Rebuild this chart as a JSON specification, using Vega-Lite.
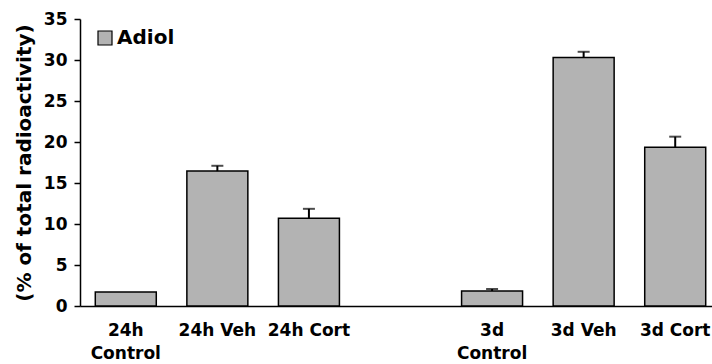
{
  "$schema": "https://vega.github.io/schema/vega-lite/v6.json",
  "autosize": "none",
  "width": 641,
  "height": 287,
  "padding": {"left": 80, "top": 19, "right": 0, "bottom": 58},
  "background": "white",
  "config": {
    "view": {"stroke": null},
    "font": "DejaVu Sans",
    "axis": {"grid": false, "domainColor": "black", "tickColor": "black", "labelColor": "black", "titleColor": "black", "labelFont": "DejaVu Sans", "titleFont": "DejaVu Sans", "labelFontWeight": "bold", "titleFontWeight": "bold"}
  },
  "data": {
    "values": [
      {"group": "24h Control", "value": 1.7, "upper": null, "series": "Adiol"},
      {"group": "24h Veh", "value": 16.45, "upper": 17.1, "series": "Adiol"},
      {"group": "24h Cort", "value": 10.7, "upper": 11.85, "series": "Adiol"},
      {"group": "3d Control", "value": 1.83, "upper": 2.07, "series": "Adiol"},
      {"group": "3d Veh", "value": 30.3, "upper": 31.0, "series": "Adiol"},
      {"group": "3d Cort", "value": 19.35, "upper": 20.65, "series": "Adiol"}
    ]
  },
  "encoding": {
    "x": {
      "field": "group",
      "type": "nominal",
      "sort": null,
      "scale": {"domain": ["24h Control", "24h Veh", "24h Cort", " ", "3d Control", "3d Veh", "3d Cort"], "paddingInner": 0.334, "paddingOuter": 0.167},
      "axis": {
        "title": null,
        "labelAngle": 0,
        "ticks": false,
        "domainWidth": 1.5,
        "labelFontSize": 17,
        "labelPadding": 16,
        "labelLineHeight": 23,
        "labelExpr": "indexof(datum.value, 'Control') > 0 ? split(datum.value, ' ') : datum.value"
      }
    }
  },
  "layer": [
    {
      "mark": {"type": "bar", "stroke": "black", "strokeWidth": 1.5},
      "encoding": {
        "y": {
          "field": "value",
          "type": "quantitative",
          "scale": {"domain": [0, 35]},
          "axis": {
            "title": "(% of total radioactivity)",
            "titleFontSize": 20,
            "titlePadding": 9,
            "values": [0, 5, 10, 15, 20, 25, 30, 35],
            "labelFontSize": 17,
            "labelPadding": 7,
            "tickSize": 6,
            "tickWidth": 1.5,
            "domainWidth": 1.5
          }
        },
        "color": {
          "field": "series",
          "type": "nominal",
          "scale": {"range": ["#b3b3b3"]},
          "legend": {
            "title": null,
            "orient": "none",
            "legendX": 15,
            "legendY": 9,
            "symbolType": "square",
            "symbolSize": 196,
            "symbolStrokeColor": "black",
            "symbolStrokeWidth": 1.2,
            "symbolFillColor": "#b3b3b3",
            "labelFontSize": 20,
            "labelFontWeight": "bold",
            "labelColor": "black",
            "labelFont": "DejaVu Sans",
            "labelOffset": 2
          }
        }
      }
    },
    {
      "transform": [{"filter": "datum.upper != null"}],
      "mark": {"type": "rule", "color": "black", "strokeWidth": 2},
      "encoding": {
        "y": {"field": "value", "type": "quantitative"},
        "y2": {"field": "upper"}
      }
    },
    {
      "transform": [{"filter": "datum.upper != null"}],
      "mark": {"type": "tick", "color": "black", "thickness": 2, "size": 12, "orient": "horizontal"},
      "encoding": {
        "y": {"field": "upper", "type": "quantitative"}
      }
    }
  ]
}
